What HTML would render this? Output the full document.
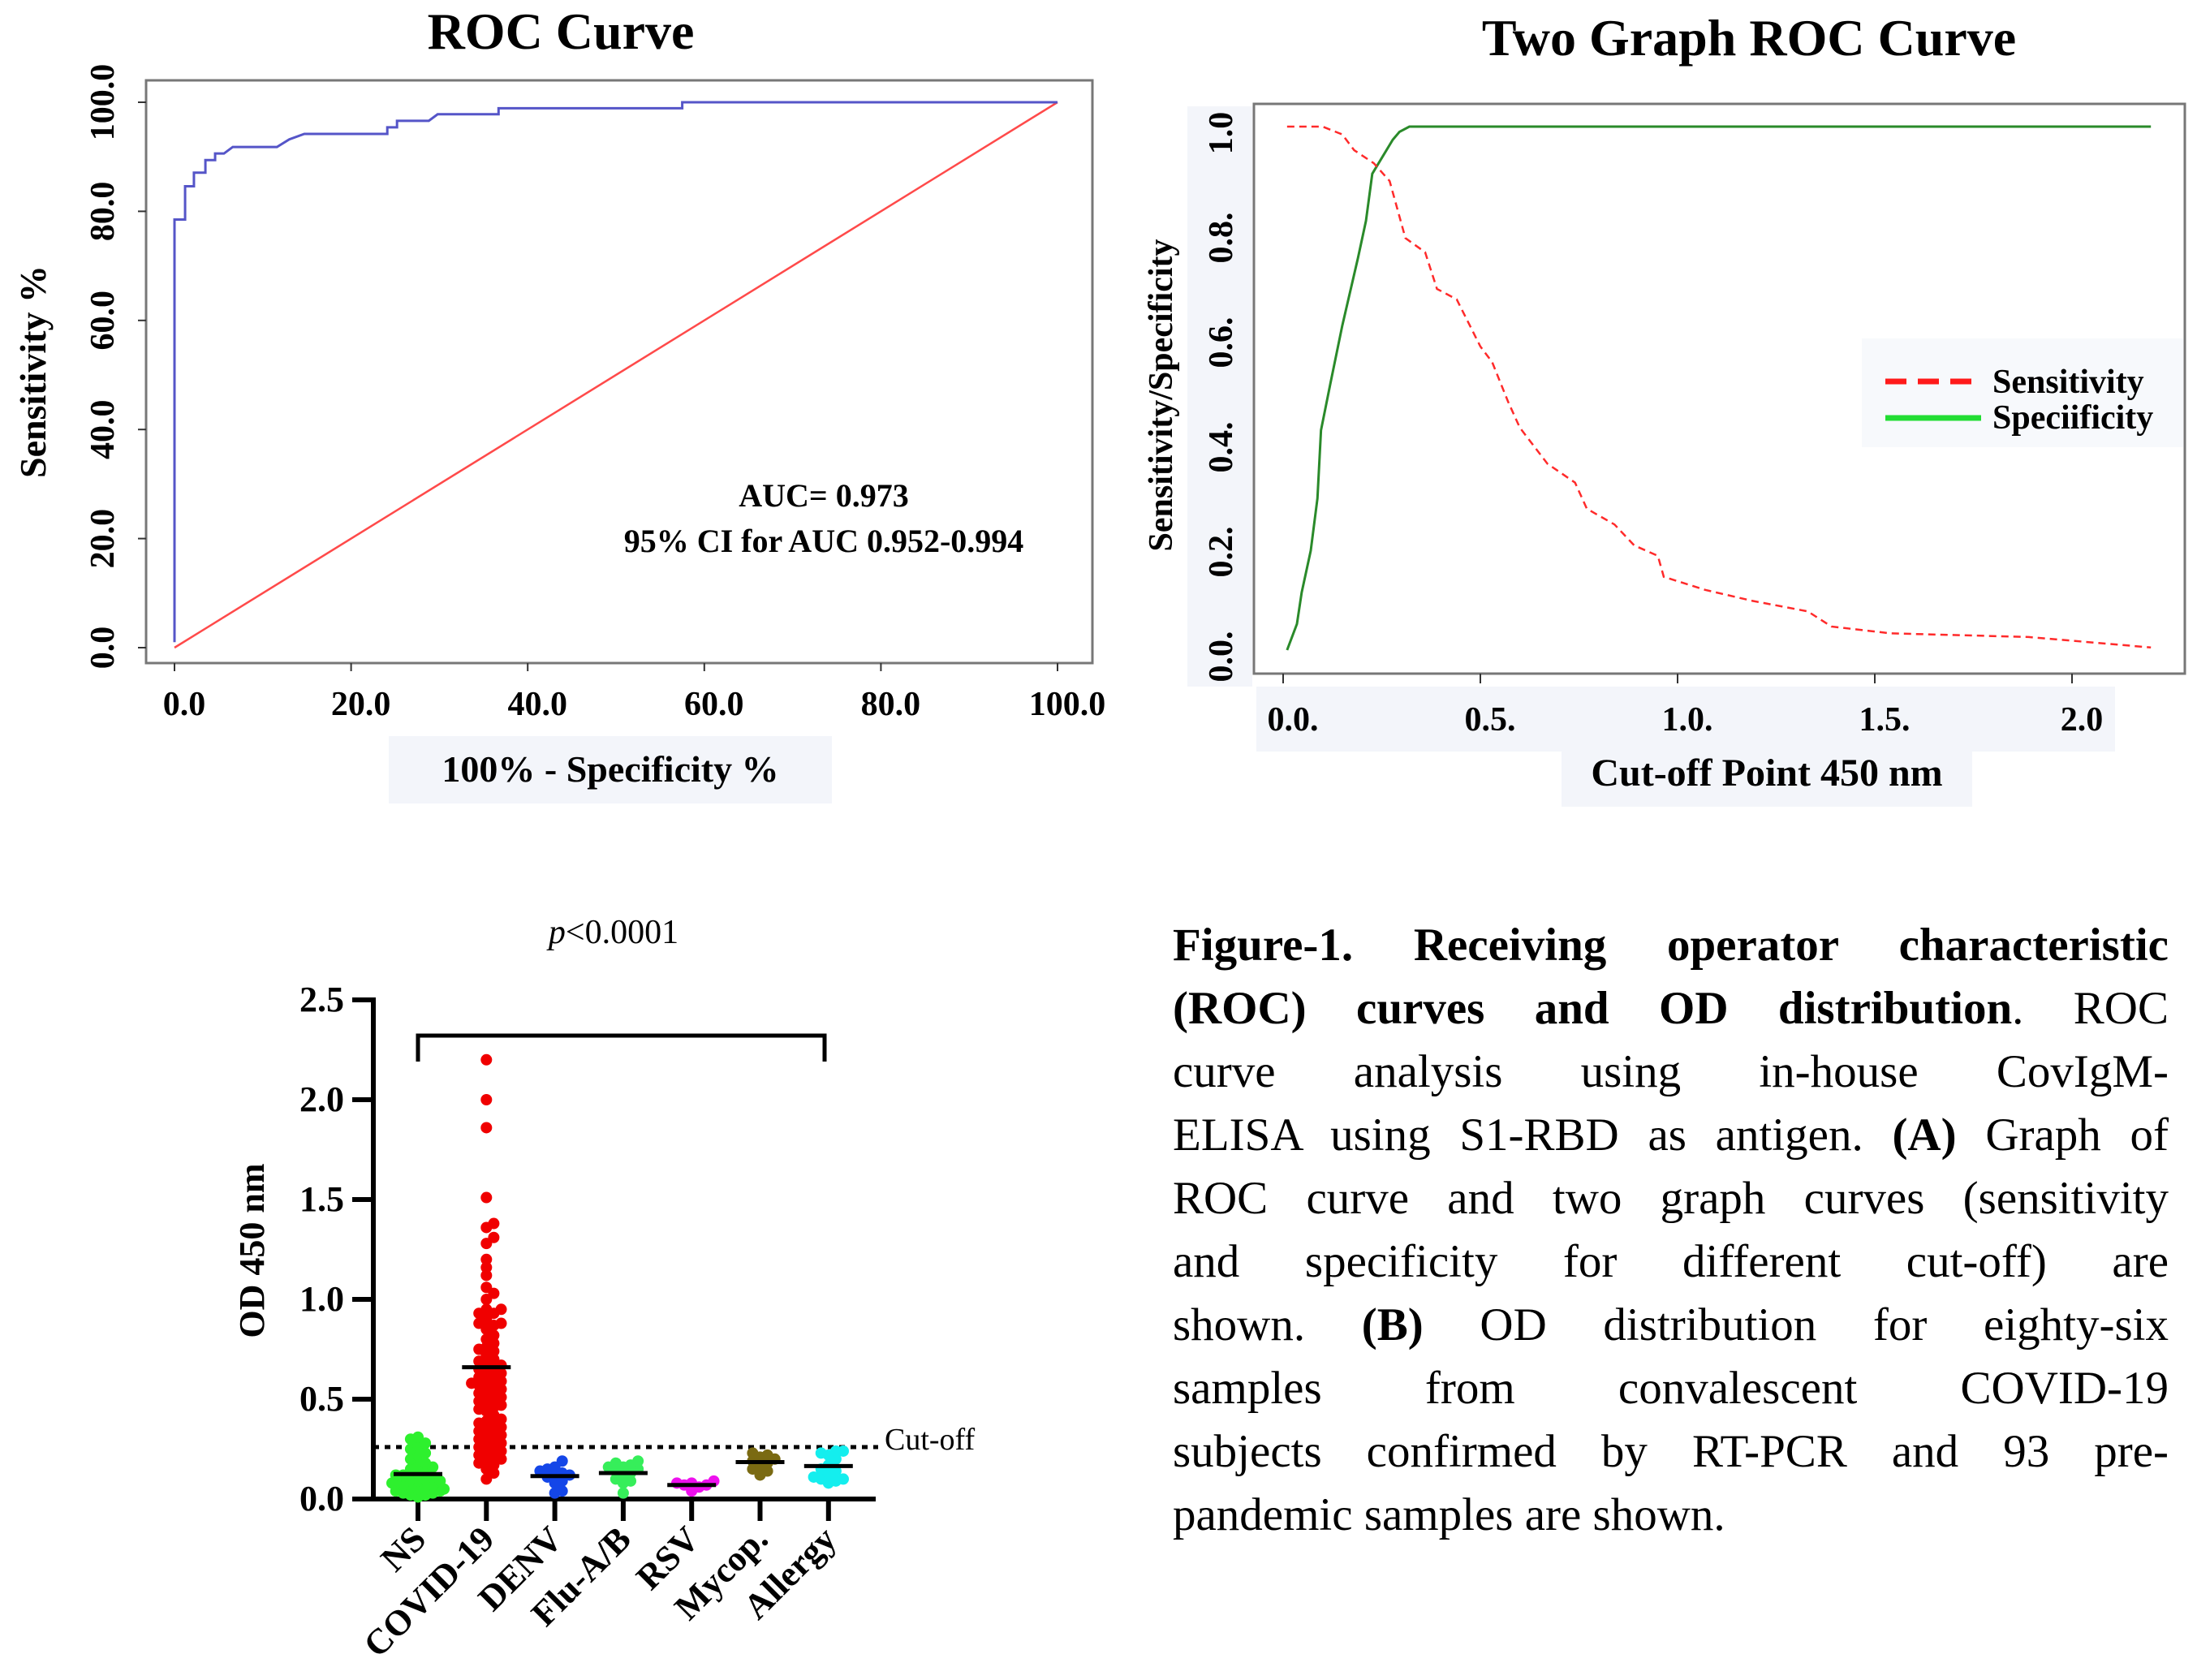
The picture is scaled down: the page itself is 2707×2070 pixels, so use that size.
<!DOCTYPE html>
<html><head><meta charset="utf-8">
<style>
body{margin:0;background:#fff;}
#wrap{position:relative;width:2707px;height:2070px;overflow:hidden;background:#fff;}
svg text{font-family:"Liberation Serif",serif;}
#caption{position:absolute;left:1445px;top:1126px;width:1227px;font-family:"Liberation Serif",serif;font-size:57px;color:#000;}
#caption div{height:78px;line-height:78px;text-align:justify;text-align-last:justify;white-space:nowrap;}
#caption div.last{text-align-last:left;}
</style></head>
<body>
<div id="wrap">
<svg id="svg" width="2707" height="2070" viewBox="0 0 2707 2070" xmlns="http://www.w3.org/2000/svg">
  <g id="roc">
    <text x="691" y="60" font-size="64" font-weight="bold" text-anchor="middle">ROC Curve</text>
    <rect x="180" y="99" width="1166" height="718" fill="#fff" stroke="#777" stroke-width="3"/>
    <rect x="479" y="907" width="546" height="83" fill="#f3f5fa"/>
    <text x="752" y="963" font-size="46" font-weight="bold" text-anchor="middle">100% - Specificity %</text>
    <text transform="translate(56,458) rotate(-90)" font-size="46" font-weight="bold" text-anchor="middle">Sensitivity %</text>
    <text x="1015" y="624" font-size="40" font-weight="bold" text-anchor="middle">AUC= 0.973</text>
    <text x="1015" y="680" font-size="40" font-weight="bold" text-anchor="middle">95% CI for AUC 0.952-0.994</text>
  </g>
  <g id="two">
    <text x="2155" y="68" font-size="64" font-weight="bold" text-anchor="middle">Two Graph ROC Curve</text>
    <rect x="1463" y="131" width="80" height="715" fill="#f3f5fa"/>
    <rect x="1548" y="846" width="1058" height="80" fill="#f3f5fa"/>
    <rect x="1545" y="128" width="1147" height="702" fill="#fff" stroke="#777" stroke-width="3"/>
    <rect x="1924" y="910" width="506" height="84" fill="#f3f5fa"/>
    <text x="2177" y="968" font-size="48" font-weight="bold" text-anchor="middle">Cut-off Point 450 nm</text>
    <text transform="translate(1444,487) rotate(-90)" font-size="42" font-weight="bold" text-anchor="middle">Sensitivity/Specificity</text>
    <rect x="2294" y="417" width="396" height="134" fill="#f7f9fc"/>
    <line x1="2323" y1="470" x2="2441" y2="470" stroke="#ff1a1a" stroke-width="7" stroke-dasharray="26,14"/>
    <line x1="2323" y1="515" x2="2441" y2="515" stroke="#22dd33" stroke-width="7"/>
    <text x="2455" y="484" font-size="42" font-weight="bold">Sensitivity</text>
    <text x="2455" y="528" font-size="42" font-weight="bold">Speciificity</text>
  </g>
  <g id="od">
    <text x="756" y="1162" font-size="42" text-anchor="middle"><tspan font-style="italic">p</tspan>&lt;0.0001</text>
    <text transform="translate(325,1541) rotate(-90)" font-size="44" font-weight="bold" text-anchor="middle">OD 450 nm</text>
    <path d="M515,1308 V1276 H1016 V1308" fill="none" stroke="#000" stroke-width="5"/>
    <text x="1090" y="1786" font-size="38">Cut-off</text>
  </g>
</svg>
<div id="caption">
<div><b>Figure-1. Receiving operator characteristic</b></div>
<div><b>(ROC) curves and OD distribution</b>. ROC</div>
<div>curve analysis using in-house CovIgM-</div>
<div>ELISA using S1-RBD as antigen. <b>(A)</b> Graph of</div>
<div>ROC curve and two graph curves (sensitivity</div>
<div>and specificity for different cut-off) are</div>
<div>shown. <b>(B)</b> OD distribution for eighty-six</div>
<div>samples from convalescent COVID-19</div>
<div>subjects confirmed by RT-PCR and 93 pre-</div>
<div class="last">pandemic samples are shown.</div>
</div>
</div>
<script>
const rocX = [0,0,1.2,1.2,2.2,2.2,3.5,3.5,4.6,4.6,5.6,6.6,11.6,13,14.7,24.1,24.1,25.2,25.2,28.8,29.8,36.7,36.7,57.5,57.5,100];
const rocY = [1,78.5,78.5,84.6,84.6,87.1,87.1,89.4,89.4,90.6,90.6,91.8,91.8,93.2,94.2,94.2,95.4,95.4,96.6,96.6,97.8,97.8,98.9,98.9,100,100];
const rocTicks = [0,20,40,60,80,100];
const rocTickLabels = ["0.0","20.0","40.0","60.0","80.0","100.0"];
const sensX = [0.01,0.1,0.15,0.18,0.23,0.27,0.31,0.36,0.39,0.44,0.5,0.53,0.57,0.6,0.67,0.74,0.77,0.84,0.89,0.95,0.965,1.07,1.19,1.33,1.39,1.54,1.89,2.2];
const sensY = [1.0,1.0,0.985,0.955,0.93,0.896,0.787,0.76,0.69,0.67,0.58,0.55,0.475,0.425,0.356,0.32,0.27,0.24,0.2,0.18,0.14,0.115,0.094,0.074,0.045,0.032,0.025,0.005];
const specX = [0.01,0.035,0.047,0.07,0.087,0.096,0.12,0.15,0.19,0.21,0.226,0.25,0.278,0.295,0.32,2.2];
const specY = [0.0,0.05,0.11,0.19,0.29,0.42,0.51,0.62,0.75,0.82,0.91,0.94,0.975,0.99,1.0,1.0];
const twoXTicks = [0,0.5,1.0,1.5,2.0];
const twoXLabels = ["0.0.","0.5.","1.0.","1.5.","2.0"];
const twoYTicks = [0,0.2,0.4,0.6,0.8,1.0];
const twoYLabels = ["0.0.","0.2.","0.4.","0.6.","0.8.","1.0"];
const odCategories = ["NS","COVID-19","DENV","Flu-A/B","RSV","Mycop.","Allergy"];
const odColors = ["#2ef02e","#f00000","#1446e8","#36ee5a","#ee10ee","#7a6a12","#14eeee"];
const odNS = [0.31,0.3,0.28,0.27,0.25,0.23,0.22,0.2,0.18,0.17,0.16,0.15,0.14,0.13,0.12,0.12,0.11,0.1,0.1,0.09,0.09,0.08,0.08,0.07,0.07,0.06,0.06,0.05,0.05,0.04,0.04,0.03,0.03,0.02,0.02,0.01];
const odCOVID = [2.2,2.0,1.86,1.51,1.38,1.36,1.31,1.28,1.2,1.16,1.12,1.06,1.03,1.0,0.95,0.95,0.93,0.93,0.9,0.88,0.88,0.87,0.85,0.82,0.8,0.78,0.76,0.75,0.74,0.72,0.7,0.69,0.68,0.67,0.66,0.65,0.64,0.63,0.62,0.61,0.6,0.59,0.58,0.58,0.57,0.56,0.55,0.54,0.53,0.52,0.51,0.5,0.49,0.48,0.47,0.46,0.45,0.44,0.42,0.4,0.39,0.38,0.37,0.36,0.35,0.34,0.33,0.32,0.31,0.3,0.29,0.28,0.27,0.26,0.25,0.24,0.23,0.22,0.21,0.2,0.19,0.18,0.17,0.15,0.13,0.1];
const odDENV = [0.19,0.16,0.15,0.14,0.13,0.12,0.12,0.11,0.09,0.08,0.04,0.03];
const odFlu = [0.19,0.18,0.17,0.16,0.16,0.15,0.14,0.13,0.12,0.1,0.09,0.08,0.03];
const odRSV = [0.09,0.08,0.08,0.07,0.07,0.06,0.04];
const odMycop = [0.23,0.22,0.21,0.2,0.19,0.18,0.17,0.15,0.14,0.12];
const odAllergy = [0.24,0.24,0.23,0.22,0.2,0.17,0.15,0.14,0.13,0.11,0.1,0.1,0.09,0.08];
const odMeans = [0.125,0.66,0.115,0.13,0.07,0.185,0.165];
const odTicks = [0,0.5,1.0,1.5,2.0,2.5];
const odTickLabels = ["0.0","0.5","1.0","1.5","2.0","2.5"];
const odCutoff = [0.26];

const NS = "http://www.w3.org/2000/svg";
function mk(tag, attrs, parent){ const e=document.createElementNS(NS,tag); for(const k in attrs) e.setAttribute(k,attrs[k]); parent.appendChild(e); return e; }

const rx = v => 215 + v*(1303-215)/100;
const ry = v => 798 - v*(798-126)/100;
const roc = document.getElementById('roc');
rocTicks.forEach((t,i)=>{
  let tk = mk('line',{x1:rx(t),y1:817,x2:rx(t),y2:827,stroke:'#333','stroke-width':2},roc);
  
  
  let lb = mk('text',{x:rx(t)+12,y:881,'font-size':42,'font-weight':'bold','text-anchor':'middle'},roc);
  lb.textContent = rocTickLabels[i];
  
  
  let tk2 = mk('line',{x1:170,y1:ry(t),x2:180,y2:ry(t),stroke:'#333','stroke-width':2},roc);
  
  
  let lb2 = mk('text',{transform:`translate(140,${ry(t)}) rotate(-90)`,'font-size':42,'font-weight':'bold','text-anchor':'middle'},roc);
  lb2.textContent = rocTickLabels[i];
  
  
});
let diag = mk('line',{x1:rx(0),y1:ry(0),x2:rx(100),y2:ry(100),stroke:'#ff4a4a','stroke-width':2.5},roc);


let rocPath = mk('polyline',{points:rocX.map((x,i)=>rx(x)+','+ry(rocY[i])).join(' '),fill:'none',stroke:'#5555c8','stroke-width':3},roc);



const tx = v => 1581 + v*486;
const ty = v => 801 - v*645;
const two = document.getElementById('two');
twoXTicks.forEach((t,i)=>{
  let tk = mk('line',{x1:tx(t),y1:830,x2:tx(t),y2:842,stroke:'#333','stroke-width':2},two);
  
  
  let lb = mk('text',{x:tx(t)+12,y:900,'font-size':42,'font-weight':'bold','text-anchor':'middle'},two);
  lb.textContent = twoXLabels[i];
  
  
});
twoYTicks.forEach((t,i)=>{
  let lb = mk('text',{transform:`translate(1518,${ty(t)+8}) rotate(-90)`,'font-size':42,'font-weight':'bold','text-anchor':'middle'},two);
  lb.textContent = twoYLabels[i];
  
  
});
let sp = mk('polyline',{points:specX.map((x,i)=>tx(x)+','+ty(specY[i])).join(' '),fill:'none',stroke:'#2a8a2a','stroke-width':3},two);


let se = mk('polyline',{points:sensX.map((x,i)=>tx(x)+','+ty(sensY[i])).join(' '),fill:'none',stroke:'#ff2a2a','stroke-width':2.5,'stroke-dasharray':'9,6'},two);



const od = document.getElementById('od');
const ox = i => 515 + i*84.3;
const oy = v => 1847 - v*246;
let ya = mk('line',{x1:460,y1:oy(2.5)-3,x2:460,y2:oy(0)+3,stroke:'#000','stroke-width':6},od);


let xa = mk('line',{x1:434,y1:oy(0),x2:1079,y2:oy(0),stroke:'#000','stroke-width':6},od);


odTicks.forEach((t,i)=>{
  let tk = mk('line',{x1:434,y1:oy(t),x2:460,y2:oy(t),stroke:'#000','stroke-width':6},od);
  
  
  let lb = mk('text',{x:424,y:oy(t)+14,'font-size':44,'font-weight':'bold','text-anchor':'end'},od);
  lb.textContent = odTickLabels[i];
  
  
});
let cut = mk('line',{x1:460,y1:oy(odCutoff[0]),x2:1082,y2:oy(odCutoff[0]),stroke:'#000','stroke-width':5,'stroke-dasharray':'7,7'},od);


const groups = [odNS,odCOVID,odDENV,odFlu,odRSV,odMycop,odAllergy];
const R = 7;
groups.forEach((vals,gi)=>{
  const cx = ox(gi);
  let tk = mk('line',{x1:cx,y1:oy(0),x2:cx,y2:oy(0)+27,stroke:'#000','stroke-width':6},od);
  
  
  let lb = mk('text',{transform:`translate(${cx+12},${oy(0)+52}) rotate(-45)`,'font-size':44,'font-weight':'bold','text-anchor':'end'},od);
  lb.textContent = odCategories[gi];
  
  
  const placed = [];
  const sorted = vals.slice().sort((a,b)=>a-b);
  sorted.forEach(v=>{
    const py = oy(v);
    let off = 0, k = 0;
    while(true){
      const cand = k===0?0:(k%2? Math.ceil(k/2): -Math.ceil(k/2))*R*1.3;
      if(placed.every(p=>Math.hypot(p[0]-(cx+cand),p[1]-py) >= 1.25*R) || k>20){ off=cand; break; }
      k++;
    }
    off = Math.max(-32, Math.min(32, off));
    placed.push([cx+off,py]);
    let c = mk('circle',{cx:cx+off,cy:py,r:R,fill:odColors[gi]},od);
    
    
  });
  let m = mk('line',{x1:cx-30,y1:oy(odMeans[gi]),x2:cx+30,y2:oy(odMeans[gi]),stroke:'#000','stroke-width':5},od);
  
  
});
</script>
</body></html>
